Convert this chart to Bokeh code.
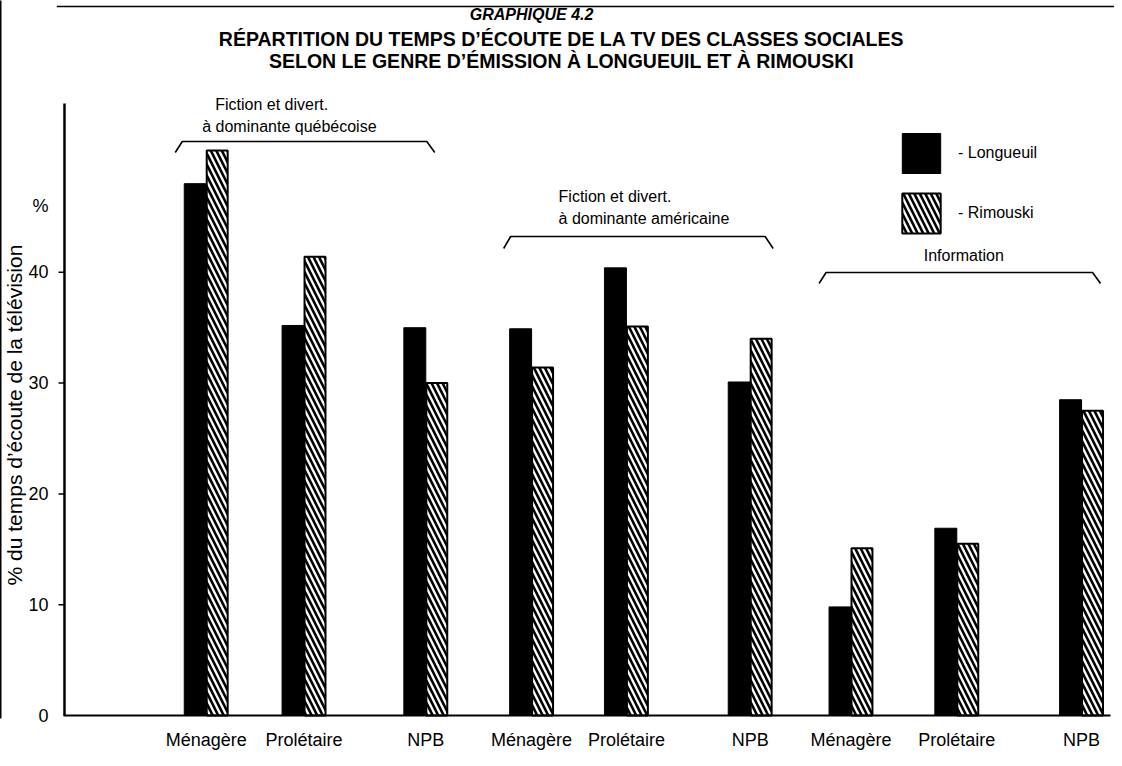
from bokeh.plotting import figure
from bokeh.models import (Range1d, FixedTicker, Legend, LegendItem, Title,
                          LinearAxis, ColumnDataSource)
from bokeh.core.properties import value
from bokeh.embed import file_html
from bokeh.resources import INLINE

# ---------------- data ----------------
classes = ["Ménagère", "Prolétaire", "NPB",
           "Ménagère", "Prolétaire", "NPB",
           "Ménagère", "Prolétaire", "NPB"]
genres = ["Fiction et divert. à dominante québécoise"] * 3 + \
         ["Fiction et divert. à dominante américaine"] * 3 + \
         ["Information"] * 3
longueuil = [48.0, 35.2, 35.0, 34.9, 40.4, 30.1, 9.8, 16.9, 28.5]
rimouski = [51.0, 41.4, 30.0, 31.4, 35.1, 34.0, 15.1, 15.5, 27.5]
y_ticks = [0, 10, 20, 30, 40]
unit_tick = 46
series_names = ["- Longueuil", "- Rimouski"]

# ---------------- layout (page pixels) ----------------
slot_x = [204, 302, 424, 530, 625, 749, 850, 956, 1081]
BAR_W = 22
BASE_PY = 715.0
PX_PER_UNIT = 11.08
FRAME_LEFT = 54


def yv(py):
    return (BASE_PY - py) / PX_PER_UNIT


FONT = "Liberation Sans"

p = figure(width=1114, height=758,
           x_range=Range1d(FRAME_LEFT, 1114), y_range=Range1d(yv(718), yv(0)),
           output_backend="svg", toolbar_location=None,
           min_border_left=FRAME_LEFT, min_border_right=0,
           min_border_top=0, min_border_bottom=40)
p.outline_line_color = None
p.grid.visible = False
p.background_fill_color = "white"
p.border_fill_color = "white"

src = ColumnDataSource(dict(
    xl=[x - BAR_W / 2 for x in slot_x],
    xr=[x + BAR_W / 2 for x in slot_x],
    lon=longueuil, rim=rimouski, cls=classes, genre=genres))

r_lon = p.vbar(x="xl", top="lon", bottom=0, width=BAR_W, source=src,
               fill_color="black", line_color="black", line_width=1)
r_rim = p.vbar(x="xr", top="rim", bottom=0, width=BAR_W - 1, source=src,
               fill_color="white", line_color="black", line_width=2,
               hatch_pattern="\\", hatch_color="black", hatch_weight=2.6,
               hatch_scale=11)

# axis spine, tick marks and baseline
p.segment(x0=[62], y0=[0], x1=[62], y1=[yv(103)], line_width=2.5, color="black")
p.segment(x0=[56] * 4, y0=y_ticks[1:], x1=[62] * 4, y1=y_ticks[1:],
          line_width=1.5, color="black")
p.segment(x0=[61], y0=[0], x1=[1110], y1=[0], line_width=2, color="black")
# top rule of the page
p.segment(x0=[FRAME_LEFT], y0=[yv(6)], x1=[1114], y1=[yv(6)], line_width=1.6,
          color="black")

# y axis
ya = p.yaxis[0]
ya.ticker = FixedTicker(ticks=y_ticks + [unit_tick])
ya.major_label_overrides = {unit_tick: "%"}
ya.axis_line_color = None
ya.major_tick_line_color = None
ya.minor_tick_line_color = None
ya.major_label_standoff = 2
ya.major_label_text_font = FONT
ya.major_label_text_font_size = "18px"
ya.major_label_text_color = "black"

p.add_layout(Title(text="% du temps d’écoute de la télévision", align="left",
                   offset=133, standoff=0, text_font=FONT, text_font_size="21px",
                   text_font_style="normal", text_color="black"), "left")

# outer left rule of the page
border_axis = LinearAxis(ticker=FixedTicker(ticks=[]), axis_line_width=2,
                         axis_line_color="black", major_tick_line_color=None,
                         minor_tick_line_color=None,
                         major_label_text_font_size="0px")
p.add_layout(border_axis, "left")

# x axis
xa = p.xaxis[0]
xa.ticker = FixedTicker(ticks=slot_x)
xa.major_label_overrides = {x: c for x, c in zip(slot_x, classes)}
xa.axis_line_color = None
xa.major_tick_line_color = None
xa.minor_tick_line_color = None
xa.major_label_standoff = 5
xa.major_label_text_font = FONT
xa.major_label_text_font_size = "18px"
xa.major_label_text_color = "black"

# titles
p.text(x=[530], y=[yv(14)], text=["GRAPHIQUE 4.2"], text_align="center",
       text_baseline="middle", text_font=value(FONT), text_font_size="16px",
       text_font_style="bold italic", text_color="black")
p.text(x=[560, 560], y=[yv(38), yv(60)],
       text=["RÉPARTITION DU TEMPS D’ÉCOUTE DE LA TV DES CLASSES SOCIALES",
             "SELON LE GENRE D’ÉMISSION À LONGUEUIL ET À RIMOUSKI"],
       text_align="center", text_baseline="middle", text_font=value(FONT),
       text_font_size="19.5px", text_font_style="bold", text_color="black")

# group annotations
p.text(x=[213, 200, 557, 557], y=[yv(104), yv(126), yv(196), yv(218)],
       text=["Fiction et divert.", "à dominante québécoise",
             "Fiction et divert.", "à dominante américaine"],
       text_align="left", text_baseline="middle", text_font=value(FONT),
       text_font_size="16px", text_color="black")
p.text(x=[963], y=[yv(255)], text=["Information"], text_align="center",
       text_baseline="middle", text_font=value(FONT), text_font_size="16px",
       text_color="black")

# brackets: (left x, right x, top y, bottom y) in page px
brackets = [(173, 433, 141, 152), (502, 772, 236, 248), (818, 1100, 272, 283)]
for xa_, xb_, yt, yb in brackets:
    p.line(x=[xa_, xa_ + 7, xb_ - 8, xb_],
           y=[yv(yb), yv(yt), yv(yt), yv(yb)], line_width=1.6, color="black")

# legend
legend = Legend(items=[LegendItem(label=series_names[0], renderers=[r_lon]),
                       LegendItem(label=series_names[1], renderers=[r_rim])],
                location=(841, 480), orientation="vertical",
                glyph_width=48, glyph_height=50, spacing=10, padding=0,
                margin=0, label_standoff=13, border_line_color=None,
                background_fill_alpha=0, label_text_font=FONT,
                label_text_font_size="16px", label_text_color="black")
p.add_layout(legend)

open("out.html", "w").write(file_html(p, INLINE))
